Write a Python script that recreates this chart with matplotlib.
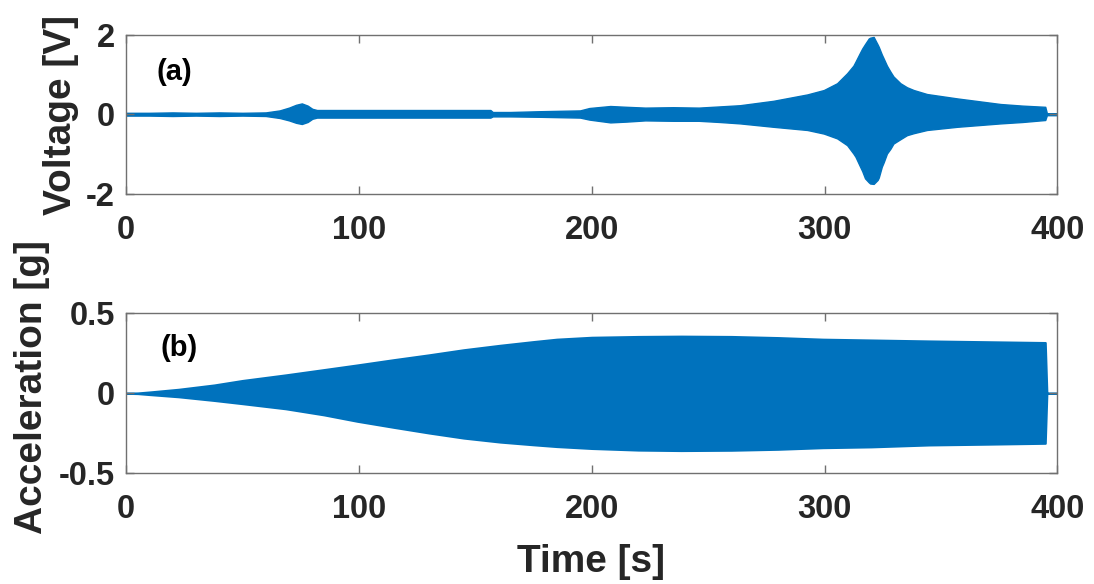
import matplotlib
matplotlib.use("Agg")
import matplotlib.pyplot as plt
import numpy as np

# ---------------- data (envelopes) ----------------
# (a) Voltage envelope [V]
t_volt = [0, 10, 20, 30, 40, 50, 60, 66, 70, 73, 75.5, 78, 80, 82, 100, 120, 140,
          156.5, 157.5, 165, 178, 195, 199, 208, 215, 223, 235, 246, 255, 263.7,
          278, 292.6, 299.7, 305.4, 309.7, 312.4, 313.3, 315.3, 316.2, 317.4, 319,
          319.6, 321.1, 322.8, 323.3, 324.6, 325.4, 326.8, 328.3, 329.6, 332.6,
          335.4, 338.3, 344, 357, 375.6, 385, 394.8, 395.5, 400]
volt_upper = [0.04, 0.04, 0.05, 0.04, 0.05, 0.04, 0.05, 0.10, 0.17, 0.24, 0.275, 0.22,
              0.14, 0.11, 0.11, 0.11, 0.11, 0.11, 0.06, 0.06, 0.08, 0.10, 0.16, 0.21,
              0.19, 0.17, 0.18, 0.17, 0.20, 0.23,
              0.34, 0.50, 0.61, 0.78, 1.03, 1.22, 1.32, 1.55, 1.65, 1.76, 1.90,
              1.92, 1.94, 1.75, 1.69, 1.50, 1.40, 1.22, 1.07, 0.95, 0.78,
              0.68, 0.61, 0.51, 0.40, 0.26, 0.22, 0.19, 0.03, 0.03]
volt_lower = [0.03, 0.03, 0.04, 0.03, 0.04, 0.03, 0.04, 0.09, 0.15, 0.21, 0.24, 0.19,
              0.11, 0.08, 0.08, 0.08, 0.08, 0.08, 0.05, 0.05, 0.06, 0.08, 0.13, 0.20,
              0.18, 0.15, 0.16, 0.16, 0.19, 0.225,
              0.31, 0.39, 0.48, 0.60, 0.77, 0.98, 1.06, 1.31, 1.42, 1.60, 1.70,
              1.73, 1.74, 1.64, 1.58, 1.31, 1.20, 0.98, 0.86, 0.73, 0.62,
              0.52, 0.47, 0.39, 0.31, 0.225, 0.19, 0.14, 0.02, 0.02]

# (b) Acceleration envelope [g]
t_acc = [0, 5, 10, 22.6, 37.9, 50, 68.6, 85, 99.3, 115, 130, 145, 160.7, 175, 185,
         200, 220, 238.4, 260, 280, 299.3, 320, 344.8, 370, 394.8, 395.5, 400]
acc_upper = [0, 0.002, 0.008, 0.025, 0.052, 0.08, 0.115, 0.148, 0.177, 0.21, 0.24,
             0.272, 0.30, 0.323, 0.338, 0.35, 0.355, 0.357, 0.355, 0.348, 0.338,
             0.333, 0.327, 0.322, 0.317, 0, 0]
acc_lower = [0, 0.002, 0.008, 0.022, 0.045, 0.065, 0.097, 0.135, 0.175, 0.213, 0.248,
             0.28, 0.305, 0.322, 0.333, 0.345, 0.355, 0.358, 0.356, 0.35, 0.34,
             0.335, 0.323, 0.318, 0.3125, 0, 0]

x_ticks = [0, 100, 200, 300, 400]
volt_ticks = [-2, 0, 2]
acc_ticks = [-0.5, 0, 0.5]
acc_ticklabels = ["-0.5", "0", "0.5"]

# ---------------- style ----------------
plt.rcParams['font.family'] = ['Liberation Sans', 'DejaVu Sans']
plt.rcParams['font.weight'] = 'bold'
BLUE = '#0072BD'
SPINE = '#707070'
TXT = '#262626'

fig = plt.figure(figsize=(10.94, 5.84), dpi=100)
ax1 = fig.add_axes([0.1152, 0.6673, 0.8513, 0.2736])
ax2 = fig.add_axes([0.1152, 0.1896, 0.8513, 0.2740])

def style(ax):
    for s in ax.spines.values():
        s.set_color(SPINE)
        s.set_linewidth(1.0)
    ax.tick_params(axis='both', direction='in', length=5.8, width=1.0,
                   color=SPINE, labelcolor=TXT, labelsize=23.5,
                   top=True, right=True)
    ax.tick_params(axis='x', pad=15)
    ax.tick_params(axis='y', pad=8)
    for lab in ax.get_xticklabels() + ax.get_yticklabels():
        lab.set_fontweight('bold')

# top panel
tv = np.array(t_volt)
ax1.fill_between(tv, -np.array(volt_lower), np.array(volt_upper),
                 color=BLUE, linewidth=1.0, edgecolor=BLUE)
ax1.set_xlim(0, 400)
ax1.set_ylim(-2, 2)
ax1.set_xticks(x_ticks)
ax1.set_yticks(volt_ticks)
ax1.set_yticklabels([str(v) for v in volt_ticks])
style(ax1)
ax1.text(13.2, 1.05, '(a)', ha='left', va='center', fontsize=21,
         fontweight='bold', color='black')

# bottom panel
ta = np.array(t_acc)
ax2.fill_between(ta, -np.array(acc_lower), np.array(acc_upper),
                 color=BLUE, linewidth=1.5, edgecolor=BLUE)
ax2.set_xlim(0, 400)
ax2.set_ylim(-0.5, 0.5)
ax2.set_xticks(x_ticks)
ax2.set_yticks(acc_ticks)
ax2.set_yticklabels(acc_ticklabels)
style(ax2)
ax2.text(14.9, 0.28, '(b)', ha='left', va='center', fontsize=21,
         fontweight='bold', color='black')

# labels
fig.text(0.0562, 0.803, 'Voltage [V]', rotation=90, ha='center', va='center',
         fontsize=28, fontweight='bold', color=TXT)
fig.text(0.0288, 0.338, 'Acceleration [g]', rotation=90, ha='center', va='center',
         fontsize=28, fontweight='bold', color=TXT)
fig.text(0.540, 0.0377, 'Time [s]', ha='center', va='center',
         fontsize=28, fontweight='bold', color=TXT)

fig.savefig('out.png', dpi=100)
